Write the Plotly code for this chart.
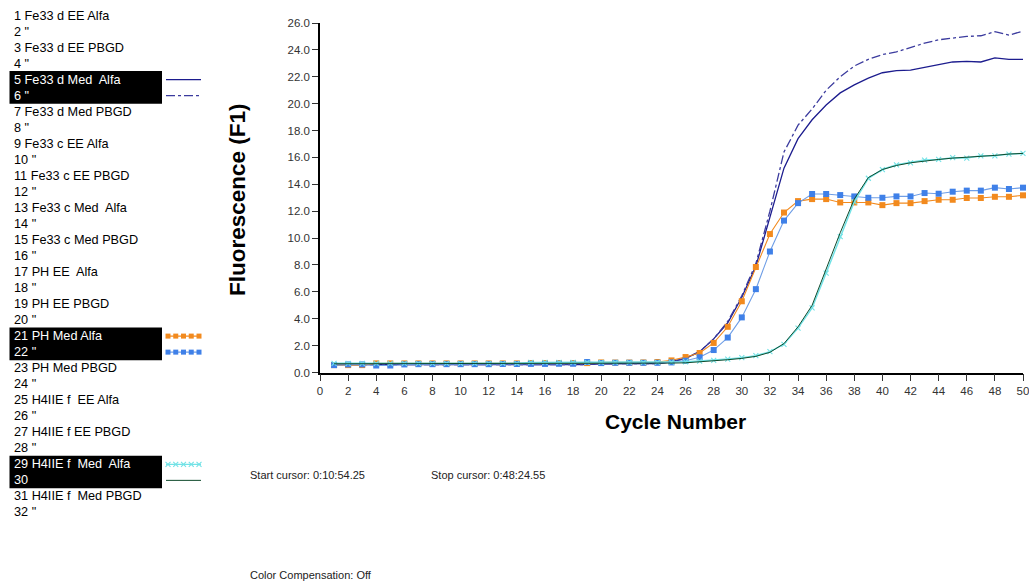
import plotly.graph_objects as go

W, H = 1029, 584

# ---------------------------------------------------------------- data
cycles = list(range(1, 51))

fe33_d_med_alfa_5 = [0.58] * 19 + [0.65, 0.65, 0.65, 0.65, 0.66,
    0.8, 1.05, 1.55, 2.5, 3.7, 5.6, 7.9, 11.5, 15.2, 17.4,
    18.8, 19.9, 20.8, 21.4, 21.9, 22.3, 22.45, 22.5, 22.7, 22.9,
    23.1, 23.15, 23.1, 23.4, 23.3, 23.3]

fe33_d_med_alfa_6 = [0.58] * 19 + [0.65, 0.65, 0.65, 0.65, 0.66,
    0.8, 1.05, 1.55, 2.5, 3.8, 5.7, 8.1, 12.0, 16.4, 18.4,
    19.6, 21.0, 22.0, 22.8, 23.3, 23.65, 23.85, 24.2, 24.5, 24.75,
    24.9, 25.0, 25.05, 25.35, 25.1, 25.4]

ph_med_alfa_21 = [0.55, 0.55, 0.55, 0.68, 0.68, 0.68, 0.68, 0.68, 0.68, 0.68,
    0.68, 0.68, 0.68, 0.68, 0.7, 0.7, 0.7, 0.7, 0.7, 0.75,
    0.74, 0.74, 0.75, 0.78, 0.9, 1.15, 1.45, 2.2, 3.4, 5.3,
    7.85, 10.3, 11.9, 12.75, 12.9, 12.9, 12.65, 12.65, 12.65, 12.45,
    12.6, 12.6, 12.75, 12.85, 12.85, 12.98, 12.98, 13.07, 13.07, 13.18]

ph_med_alfa_22 = [0.55, 0.6, 0.6, 0.52, 0.52, 0.6, 0.62, 0.62, 0.62, 0.62,
    0.62, 0.62, 0.63, 0.63, 0.64, 0.64, 0.65, 0.65, 0.78, 0.7,
    0.72, 0.72, 0.72, 0.72, 0.75, 0.88, 1.13, 1.67, 2.6, 4.1,
    6.2, 9.0, 11.3, 12.6, 13.28, 13.28, 13.2, 13.1, 13.0, 13.0,
    13.1, 13.1, 13.35, 13.3, 13.45, 13.53, 13.53, 13.75, 13.65, 13.75]

h4iie_f_med_alfa_29 = [0.68] * 14 + [0.75] * 10 + [
    0.78, 0.8, 0.85, 0.9, 1.0, 1.1, 1.25, 1.55, 2.1, 3.3,
    4.8, 7.4, 10.1, 12.7, 14.45, 15.1, 15.45, 15.6, 15.8, 15.85,
    15.98, 15.95, 16.12, 16.12, 16.25, 16.3]

h4iie_f_med_alfa_30 = [0.65] * 24 + [
    0.7, 0.72, 0.78, 0.85, 0.95, 1.05, 1.2, 1.5, 2.15, 3.4,
    5.0, 7.7, 10.4, 12.9, 14.5, 15.1, 15.4, 15.6, 15.75, 15.85,
    15.95, 16.0, 16.1, 16.15, 16.25, 16.3]

sample_labels = [
    "1 Fe33 d EE Alfa", '2 "', "3 Fe33 d EE PBGD", '4 "',
    "5 Fe33 d Med\u00a0 Alfa", '6 "', "7 Fe33 d Med PBGD", '8 "',
    "9 Fe33 c EE Alfa", '10 "', "11 Fe33 c EE PBGD", '12 "',
    "13 Fe33 c Med\u00a0 Alfa", '14 "', "15 Fe33 c Med PBGD", '16 "',
    "17 PH EE\u00a0 Alfa", '18 "', "19 PH EE PBGD", '20 "',
    "21 PH Med Alfa", '22 "', "23 PH Med PBGD", '24 "',
    "25 H4IIE f\u00a0 EE Alfa", '26 "', "27 H4IIE f EE PBGD", '28 "',
    "29 H4IIE f\u00a0 Med\u00a0 Alfa", "30", "31 H4IIE f\u00a0 Med PBGD", '32 "',
]

x_ticks = list(range(0, 51, 2))
y_ticks = [i * 2.0 for i in range(14)]

# ---------------------------------------------------------------- styles
FONT = "Liberation Sans, Arial, sans-serif"
NAVY = "#1c1c8e"
NAVY_DASH = "#3b3b9e"
ORANGE = "#f28a1e"
BLUE = "#3f80e8"
BLUE_LINE = "#6f9ee6"
CYAN = "#72e2e6"
GREEN = "#0e4a2c"

series = [
    dict(y=fe33_d_med_alfa_5, name="5", line=dict(color=NAVY, width=1.3), mode="lines"),
    dict(y=fe33_d_med_alfa_6, name="6", line=dict(color=NAVY_DASH, width=1.3, dash="dashdot"), mode="lines"),
    dict(y=ph_med_alfa_21, name="21", line=dict(color=ORANGE, width=1.1), mode="lines+markers",
         marker=dict(symbol="square", size=6, color=ORANGE)),
    dict(y=ph_med_alfa_22, name="22", line=dict(color=BLUE_LINE, width=1.1), mode="lines+markers",
         marker=dict(symbol="square", size=6, color=BLUE)),
    dict(y=h4iie_f_med_alfa_29, name="29", line=dict(color=CYAN, width=1.5), mode="lines+markers",
         marker=dict(symbol="x-thin", size=5, color=CYAN, line=dict(color=CYAN, width=1.1))),
    dict(y=h4iie_f_med_alfa_30, name="30", line=dict(color=GREEN, width=1.0), mode="lines"),
]

fig = go.Figure()
for s in series:
    fig.add_trace(go.Scatter(x=cycles, xaxis="x", yaxis="y", showlegend=False,
                             cliponaxis=False, hoverinfo="skip", **s))

# ---------------------------------------------------------------- sample list (pixel space)
ROW0, ROWH = 15.5, 16.03
def row_y(i):
    return ROW0 + (i - 1) * ROWH

shapes = []
annotations = []

for first in (5, 21, 29):
    shapes.append(dict(type="rect", xref="x2", yref="y2", x0=9.5, x1=162,
                       y0=row_y(first) - 8.5, y1=row_y(first + 1) + 8,
                       fillcolor="black", line=dict(width=0), layer="below"))

highlighted = {5, 6, 21, 22, 29, 30}
for i, lab in enumerate(sample_labels, start=1):
    annotations.append(dict(xref="x2", yref="y2", x=12, y=row_y(i), text=lab,
                            showarrow=False, xanchor="left", yanchor="middle",
                            font=dict(family=FONT, size=12.7,
                                      color="white" if i in highlighted else "black")))

# legend glyphs next to the highlighted rows
gx0, gx1 = 166, 201
glyphs = [
    (5, dict(color=NAVY, width=1.3), None),
    (6, dict(color=NAVY_DASH, width=1.3, dash="dashdot"), None),
    (21, dict(color=ORANGE, width=1.1), dict(symbol="square", size=5, color=ORANGE)),
    (22, dict(color=BLUE_LINE, width=1.1), dict(symbol="square", size=5, color=BLUE)),
    (29, dict(color=CYAN, width=1.3), dict(symbol="x-thin", size=5, color=CYAN,
                                          line=dict(color=CYAN, width=1.1))),
    (30, dict(color=GREEN, width=1.0), None),
]
for row, ln, mk in glyphs:
    y = row_y(row)
    fig.add_trace(go.Scatter(x=[gx0, gx1], y=[y, y], mode="lines", line=ln,
                             xaxis="x2", yaxis="y2", showlegend=False, hoverinfo="skip"))
    if mk:
        n = 5
        xs = [gx0 + 2 + k * (gx1 - gx0 - 4) / (n - 1) for k in range(n)]
        fig.add_trace(go.Scatter(x=xs, y=[y] * n, mode="markers", marker=mk,
                                 xaxis="x2", yaxis="y2", showlegend=False, hoverinfo="skip"))

# axis titles and run information
annotations += [
    dict(xref="x2", yref="y2", x=237, y=200, text="Fluorescence (F1)", textangle=-90,
         showarrow=False, xanchor="center", yanchor="middle",
         font=dict(family=FONT, size=22.5, color="black", weight="bold")),
    dict(xref="x2", yref="y2", x=675, y=421, text="Cycle Number",
         showarrow=False, xanchor="center", yanchor="middle",
         font=dict(family=FONT, size=21, color="black", weight="bold")),
    dict(xref="x2", yref="y2", x=248, y=475, text="Start cursor: 0:10:54.25",
         showarrow=False, xanchor="left", yanchor="middle",
         font=dict(family=FONT, size=11, color="#222")),
    dict(xref="x2", yref="y2", x=429, y=475, text="Stop cursor: 0:48:24.55",
         showarrow=False, xanchor="left", yanchor="middle",
         font=dict(family=FONT, size=11, color="#222")),
    dict(xref="x2", yref="y2", x=248, y=575, text="Color Compensation: Off",
         showarrow=False, xanchor="left", yanchor="middle",
         font=dict(family=FONT, size=11, color="#222")),
]

# ---------------------------------------------------------------- layout
PX_L, PX_R = 320, 1023
PX_B, PX_T = 372.5, 23

tickfont = dict(family=FONT, size=11.5, color="#333")
fig.update_layout(
    width=W, height=H, autosize=False,
    margin=dict(l=0, r=0, t=0, b=0, pad=0, autoexpand=False),
    paper_bgcolor="white", plot_bgcolor="rgba(0,0,0,0)",
    showlegend=False,
    xaxis=dict(domain=[PX_L / W, PX_R / W], range=[0, 50], anchor="y",
               tickvals=x_ticks, ticktext=[str(v) for v in x_ticks],
               ticks="outside", ticklen=7, tickwidth=1, tickcolor="#333",
               showline=True, linecolor="black", linewidth=1.6,
               showgrid=False, zeroline=False, tickfont=tickfont,
               ticklabeloverflow="allow", fixedrange=True),
    yaxis=dict(domain=[1 - PX_B / H, 1 - PX_T / H], range=[0, 26], anchor="x",
               tickvals=y_ticks, ticktext=[f"{v:.1f}" for v in y_ticks],
               ticks="outside", ticklen=6, tickwidth=1, tickcolor="#333",
               showline=True, linecolor="black", linewidth=1.6,
               showgrid=False, zeroline=False, tickfont=tickfont,
               ticklabeloverflow="allow", fixedrange=True),
    xaxis2=dict(domain=[0, 1], range=[0, W], anchor="y2", visible=False, fixedrange=True),
    yaxis2=dict(domain=[0, 1], range=[H, 0], anchor="x2", visible=False, fixedrange=True),
    shapes=shapes,
    annotations=annotations,
)

fig.write_html("out.html")
